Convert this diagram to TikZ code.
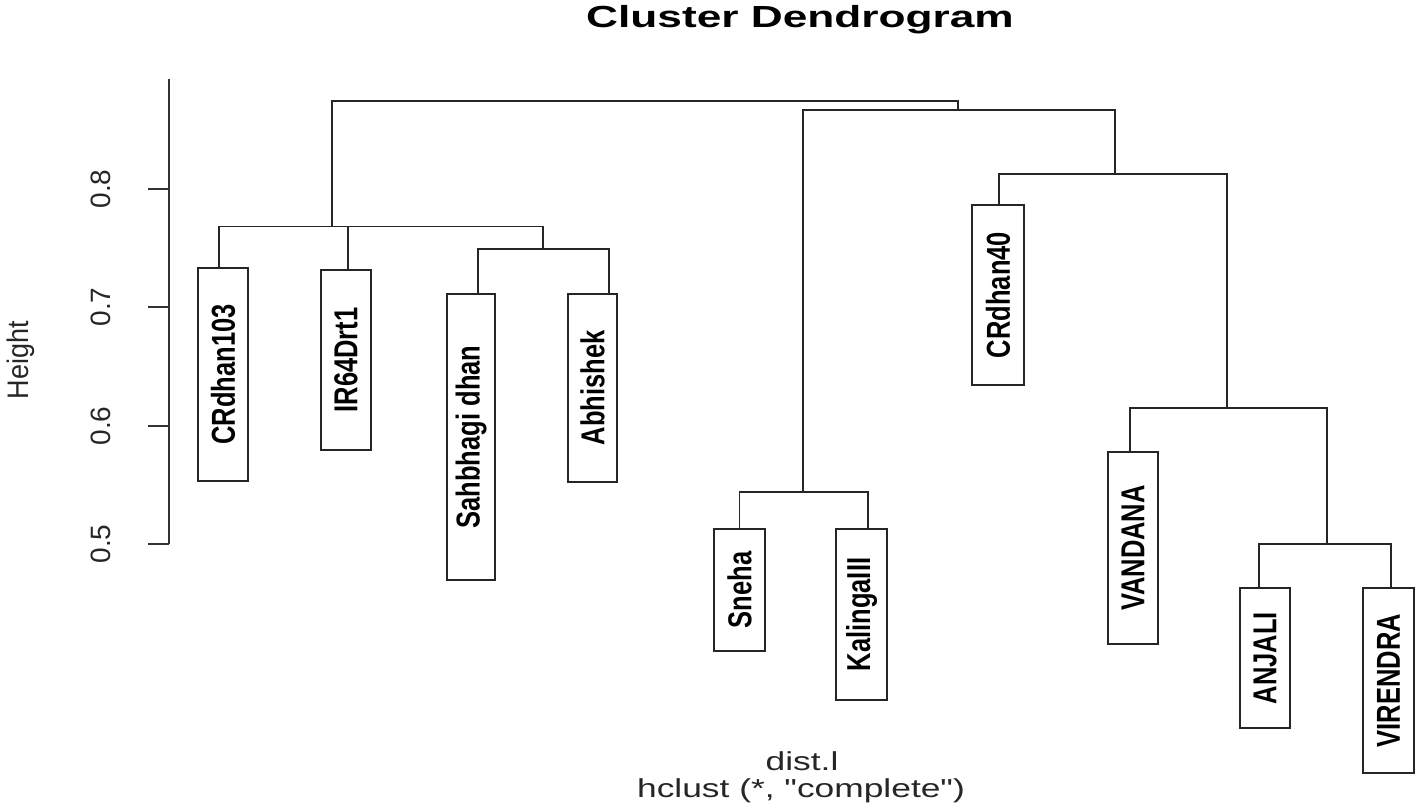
\documentclass[tikz,border=0pt]{standalone}
\usepackage{fontspec}
\setmainfont{Liberation Sans}
\newfontfamily\rawsans[Ligatures=TeXOff]{Liberation Sans}
\usepackage{graphicx}
\newcommand\vlab[2]{\rotatebox{90}{\scalebox{1}[#1]{#2}}}
\begin{document}
\begin{tikzpicture}[x=1pt,y=-1pt,
  tree/.style={line width=1.9pt, black!85, line cap=rect},
  leaf/.style={draw=black!85, line width=2pt, rectangle, inner sep=0pt,
    font=\fontsize{25.5}{26}\selectfont\bfseries},
  ticklab/.style={inner sep=0pt, font=\fontsize{28}{30}\selectfont},
  axisline/.style={line width=1.9pt, black!80}]
\useasboundingbox (0,0) rectangle (1418,809);

% title and axis titles
\node[anchor=base, inner sep=0pt] (title) at (800,27)
  {\scalebox{1.45}[1]{\fontsize{30.5}{32}\selectfont\bfseries Cluster Dendrogram}};
\node[anchor=base, inner sep=0pt, text=black!85] (xl1) at (802,770)
  {\scalebox{1.36}[1]{\fontsize{26}{28}\selectfont dist.l}};
\node[anchor=base, inner sep=0pt, text=black!85] (xl2) at (801,797)
  {\scalebox{1.36}[1]{\rawsans\fontsize{26}{28}\selectfont hclust (*, "complete")}};
\node[inner sep=0pt, text=black!85] (ylab) at (21,360)
  {\rotatebox{90}{\scalebox{1}[1.1]{\fontsize{27}{28}\selectfont Height}}};

% axis
\coordinate (axT) at (169,79);
\coordinate (axB) at (169,544);
\draw[axisline] (axT) -- (axB);
\foreach \yy/\lab in {189/0.8, 307/0.7, 426/0.6, 544/0.5}{
  \draw[axisline] (169,\yy) -- (148,\yy);
  \node[ticklab, text=black!85] at (101,\yy) {\rotatebox{90}{\lab}};
}

% leaves
\node[leaf, minimum width=50pt, minimum height=213pt] (crd103) at (223,374.5) {\vlab{1.3}{CRdhan103}};
\node[leaf, minimum width=50pt, minimum height=180pt] (ir64)   at (346,360)   {\vlab{1.3}{IR64Drt1}};
\node[leaf, minimum width=48pt, minimum height=286pt] (sahb)   at (471,437)   {\vlab{1.3}{Sahbhagi dhan}};
\node[leaf, minimum width=49pt, minimum height=188pt] (abhi)   at (592.5,388) {\vlab{1.3}{Abhishek}};
\node[leaf, minimum width=51pt, minimum height=122pt] (sneha)  at (739.5,590) {\vlab{1.3}{Sneha}};
\node[leaf, minimum width=51pt, minimum height=171pt] (kal)    at (861.5,614.5) {\vlab{1.3}{KalingaIII}};
\node[leaf, minimum width=52pt, minimum height=180pt] (crd40)  at (998,295)   {\vlab{1.3}{CRdhan40}};
\node[leaf, minimum width=50pt, minimum height=192pt] (vand)   at (1133,548)  {\vlab{1.3}{VANDANA}};
\node[leaf, minimum width=50pt, minimum height=140pt] (anj)    at (1265,658)  {\vlab{1.3}{ANJALI}};
\node[leaf, minimum width=51pt, minimum height=185pt] (vir)    at (1388.5,680.5) {\vlab{1.3}{VIRENDRA}};

% merge points
\coordinate (kSA)  at (543,249);
\coordinate (kL)   at (332,226.5);
\coordinate (kTop) at (645,101);
\coordinate (kR)   at (958,110);
\coordinate (kSK)  at (803,492);
\coordinate (kD)   at (1115,174);
\coordinate (kE)   at (1227,408);
\coordinate (kF)   at (1327,544);

% tree
\draw[tree] ([xshift=7pt]sahb.north) |- (kSA) -| ([xshift=16.5pt]abhi.north);
\draw[tree] ([xshift=-4pt]crd103.north) |- (kL) -| (kSA);
\draw[tree] ([xshift=2pt]ir64.north) |- (kL);
\draw[tree] (kL) |- (kTop) -| (kR);
\draw[tree] (sneha.north) |- (kSK) -| ([xshift=6.5pt]kal.north);
\draw[tree] (kSK) |- (kR) -| (kD);
\draw[tree] ([xshift=1pt]crd40.north) |- (kD) -| (kE);
\draw[tree] ([xshift=-3pt]vand.north) |- (kE) -| (kF);
\draw[tree] ([xshift=-6pt]anj.north) |- (kF) -| ([xshift=2.5pt]vir.north);
\end{tikzpicture}
\end{document}
